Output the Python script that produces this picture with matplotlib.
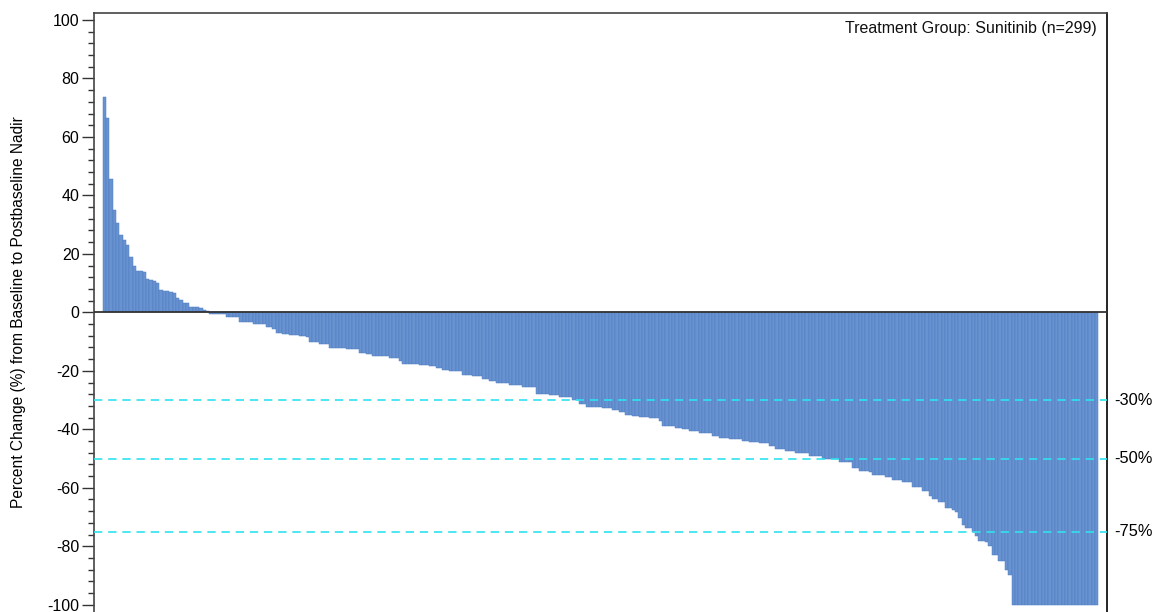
import matplotlib
matplotlib.use("Agg")
import matplotlib.pyplot as plt
from matplotlib.ticker import MultipleLocator
from matplotlib.transforms import blended_transform_factory

plt.rcParams['font.family'] = ['Liberation Sans', 'DejaVu Sans']

# Percent change from baseline to postbaseline nadir, sorted (n=299)
pct_positive = [73.8, 66.4, 45.6, 35.0, 30.6, 26.3, 24.6, 23.1, 19.1, 16.0, 14.3, 14.1, 13.8,
                11.3, 11.0, 10.6, 9.9, 7.6, 7.4, 7.2, 6.9, 6.6, 4.8, 4.3, 3.3, 3.2,
                2.0, 2.0, 1.9, 1.5, 0.7, 0.5]
pct_negative_a = [-0.6, -0.6, -0.6, -0.6, -0.6, -1.5, -1.5, -1.5, -1.5,
                  -3.2, -3.2, -3.2, -3.2, -4.0, -4.0, -4.0, -4.0, -5.0, -5.0, -5.8,
                  -6.9, -6.9, -7.3, -7.3, -7.7, -7.7, -7.7, -8.1, -8.1, -8.6,
                  -10.3, -10.3, -10.3, -10.7, -10.7, -10.7,
                  -12.1, -12.1, -12.1, -12.1, -12.1, -12.6, -12.6, -12.6, -12.6,
                  -13.8, -13.8, -14.3, -14.3, -14.9, -14.9, -15.1, -15.1, -15.1,
                  -15.7, -15.7, -15.7, -16.8, -17.7, -17.7, -17.7, -17.7, -17.7,
                  -18.1, -18.1, -18.1, -18.5, -18.5]
pct_negative_b = [-19.1, -19.1, -19.7, -19.7, -20.0, -20.0, -20.0, -20.0,
                  -21.4, -21.4, -21.4, -21.9, -21.9, -21.9, -22.9, -22.9, -23.4, -23.4,
                  -24.3, -24.3, -24.3, -24.3, -24.9, -24.9, -24.9, -24.9,
                  -25.7, -25.7, -25.7, -25.7, -28.0, -28.0, -28.0, -28.0,
                  -28.4, -28.4, -28.4, -28.9, -28.9, -28.9, -28.9, -30.0, -30.0,
                  -31.4, -31.4, -32.3, -32.3, -32.3, -32.3, -32.3,
                  -32.7, -32.7, -32.7, -33.4, -33.4, -34.2, -34.2, -35.0, -35.0,
                  -35.4, -35.4, -35.9, -35.9, -35.9, -36.3, -36.3, -36.3, -37.3,
                  -38.8, -39.0, -39.0, -39.0, -39.4, -39.4, -39.9, -39.9,
                  -40.7, -40.7, -40.7, -41.2, -41.2, -41.2, -41.2, -42.2, -42.2,
                  -43.0, -43.0, -43.0, -43.3, -43.3, -43.3, -43.3, -43.9, -43.9,
                  -44.3, -44.3, -44.3, -44.7, -44.7, -44.7, -45.6]
pct_negative_c = [-45.8, -46.8, -46.8, -46.8, -47.5, -47.5, -47.5,
                  -48.1, -48.1, -48.1, -48.1, -49.2, -49.2, -49.2, -49.2,
                  -50.2, -50.2, -50.2, -50.2, -50.2, -51.3, -51.3, -51.3, -51.3,
                  -53.3, -53.3, -54.2, -54.2, -54.2, -54.7, -55.5, -55.5, -55.5, -55.5,
                  -56.4, -56.4, -57.2, -57.2, -57.2, -58.1, -58.1, -58.1,
                  -59.6, -59.6, -59.6, -61.0, -61.0, -62.7, -63.8, -63.8,
                  -65.0, -65.0, -67.0, -67.0, -67.6, -68.4, -70.4, -72.9, -73.8, -73.8,
                  -75.2, -76.6, -78.1, -78.1, -78.4, -80.0, -82.9, -82.9, -85.2, -85.2,
                  -88.3, -89.8]
pct_full_response = [-100.0] * 26

values = pct_positive + pct_negative_a + pct_negative_b + pct_negative_c + pct_full_response
ref_lines = [-30, -50, -75]
ref_labels = ['-30%', '-50%', '-75%']
y_ticks = [100, 80, 60, 40, 20, 0, -20, -40, -60, -80, -100]
title_text = 'Treatment Group: Sunitinib (n=299)'
ylabel_text = 'Percent Change (%) from Baseline to Postbaseline Nadir'

W, H = 1159, 612
fig = plt.figure(figsize=(W / 100, H / 100), dpi=100)
ax_l, ax_r, ax_t, ax_b = 94, 1107, 13, 612
ax = fig.add_axes([ax_l / W, 1 - ax_b / H, (ax_r - ax_l) / W, (ax_b - ax_t) / H])

n = len(values)
x = list(range(n))
ax.bar(x, values, width=1.0, color='#6893d0', edgecolor='#4f7cc0', linewidth=0.35, zorder=2)

ax.axhline(0, color='#333333', linewidth=1.3, zorder=3)
for v in ref_lines:
    ax.axhline(v, color='#2fe3f0', linewidth=1.2, linestyle=(0, (5, 3.5)), zorder=4)

ax.set_xlim(-0.5 - 2.6, n - 0.5 + 2.6)
ax.set_ylim(-102.5, 102.4)

ax.set_yticks(y_ticks)
ax.set_yticklabels([str(t) for t in y_ticks])
ax.yaxis.set_minor_locator(MultipleLocator(4))
ax.tick_params(axis='y', which='major', length=9, width=1.0, color='#333333',
               labelsize=11.5, pad=1.5, labelcolor='#000000')
ax.tick_params(axis='y', which='minor', length=4, width=1.0, color='#333333')
ax.set_xticks([])

for s in ['left', 'top']:
    ax.spines[s].set_color('#444444')
    ax.spines[s].set_linewidth(1.2)
ax.spines['right'].set_color('#000000')
ax.spines['right'].set_linewidth(1.2)
ax.spines['bottom'].set_visible(False)

ax.set_ylabel(ylabel_text, fontsize=11.2, color='#000000')
ax.yaxis.set_label_coords((26 - ax_l) / (ax_r - ax_l), 0.5)

trans = blended_transform_factory(ax.transAxes, ax.transData)
for v, lab in zip(ref_lines, ref_labels):
    ax.text(1 + 7 / (ax_r - ax_l), v, lab, transform=trans, ha='left', va='center',
            fontsize=11.8, color='#000000', clip_on=False)

ax.text((1097 - ax_l) / (ax_r - ax_l), 1 - (29 - ax_t) / (ax_b - ax_t), title_text,
        transform=ax.transAxes, ha='right', va='center', fontsize=11.5, color='#111111')

fig.savefig('out.png', dpi=100)
